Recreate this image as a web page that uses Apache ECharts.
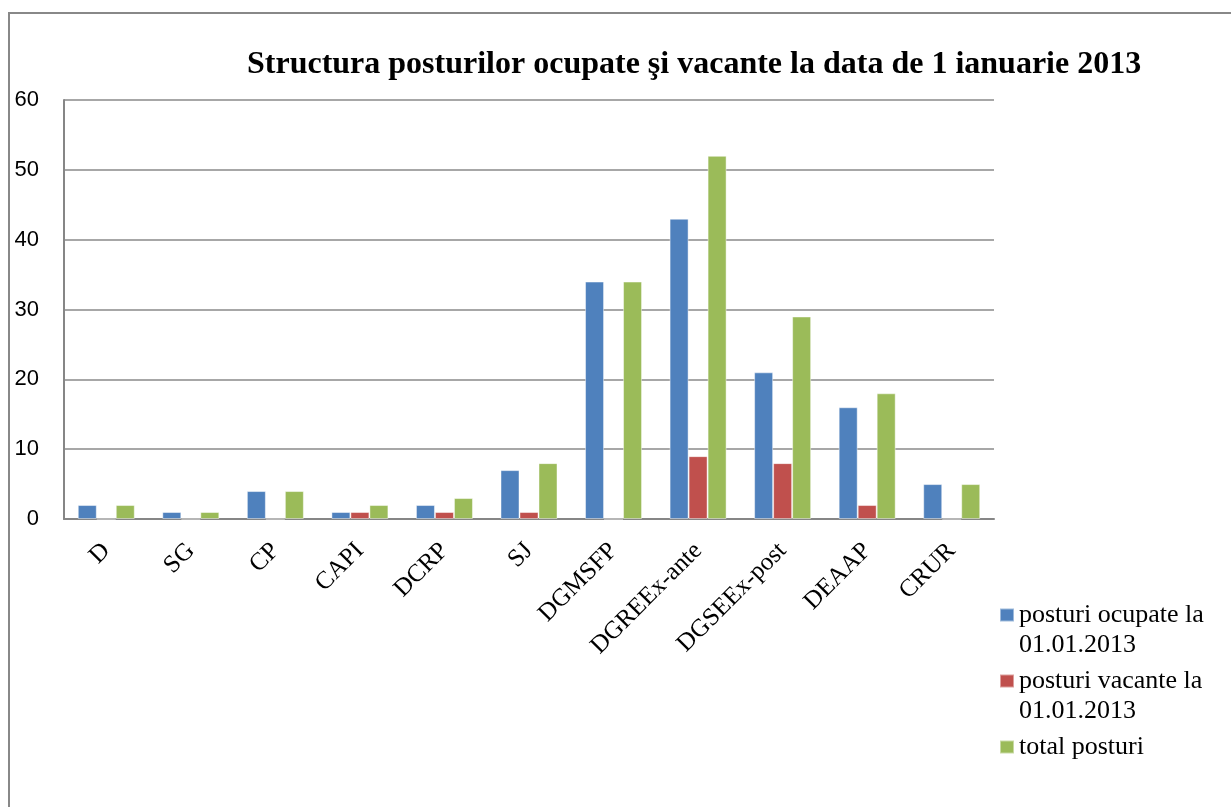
<!DOCTYPE html>
<html>
<head>
<meta charset="utf-8">
<title>Structura posturilor</title>
<script src="https://cdn.jsdelivr.net/npm/echarts@6/dist/echarts.min.js"></script>
<style>
  html, body { margin: 0; padding: 0; background: #fff; overflow: hidden; }
  #chart { width: 1231px; height: 807px; }
</style>
</head>
<body>
<div id="chart"></div>
<script>
  // categorii (axa X)
  var categories = ['D', 'SG', 'CP', 'CAPI', 'DCRP', 'SJ', 'DGMSFP', 'DGREEx-ante', 'DGSEEx-post', 'DEAAP', 'CRUR']
  // valori
  var ocupate = [2, 1, 4, 1, 2, 7, 34, 43, 21, 16, 5]
  var vacante = [0, 0, 0, 1, 1, 1, 0, 9, 8, 2, 0]
  var total = [2, 1, 4, 2, 3, 8, 34, 52, 29, 18, 5]
  var yTicks = [0, 10, 20, 30, 40, 50, 60]

  var names = ['posturi ocupate la\n01.01.2013', 'posturi vacante la\n01.01.2013', 'total posturi']
  var serif = '"Liberation Serif", "Times New Roman", serif'

  var chart = echarts.init(document.getElementById('chart'))

  function legendItem(name, top, twoLines) {
    return {
      orient: 'vertical',
      left: 999,
      top: top,
      padding: 0,
      itemWidth: 14,
      itemHeight: 13,
      icon: 'rect',
      selectedMode: false,
      data: [name],
      // linie goala deasupra ca patratul sa stea in dreptul primului rand
      formatter: function (n) {
        return twoLines ? '\n' + n : n
      },
      textStyle: {
        fontFamily: serif,
        fontSize: 26,
        lineHeight: 30,
        color: '#000'
      }
    }
  }

  var barBorder = {
    borderColor: 'rgba(255,255,255,0.45)',
    borderWidth: 1
  }

  var option = {
    animation: false,
    color: ['#4F81BD', '#C0504D', '#9BBB59'],
    title: {
      text: 'Structura posturilor ocupate şi vacante la data de 1 ianuarie 2013',
      left: 247,
      top: 49,
      padding: 0,
      textStyle: {
        fontFamily: serif,
        fontWeight: 'bold',
        fontSize: 32,
        color: '#000'
      }
    },
    legend: [
      legendItem(names[0], 570, true),
      legendItem(names[1], 636, true),
      legendItem(names[2], 732, false)
    ],
    grid: {
      left: 64,
      right: 237,
      top: 100,
      bottom: 288,
      containLabel: false
    },
    xAxis: {
      type: 'category',
      data: categories,
      axisTick: { show: false },
      axisLine: {
        lineStyle: { color: '#868686', width: 2 }
      },
      axisLabel: {
        rotate: 45,
        interval: 0,
        margin: 28,
        fontFamily: serif,
        fontSize: 25,
        color: '#000'
      }
    },
    yAxis: {
      type: 'value',
      min: yTicks[0],
      max: yTicks[yTicks.length - 1],
      interval: 10,
      axisTick: { show: false },
      axisLine: {
        show: true,
        lineStyle: { color: '#868686', width: 2 }
      },
      splitLine: {
        lineStyle: { color: '#8a8a8a', width: 1.5 }
      },
      axisLabel: {
        margin: 25,
        fontFamily: '"Liberation Sans", Arial, sans-serif',
        fontSize: 22,
        color: '#000'
      }
    },
    graphic: [{
      // chenarul graficului (doar sus si stanga sunt vizibile)
      type: 'rect',
      silent: true,
      shape: { x: 9, y: 13, width: 1300, height: 900 },
      style: { fill: 'none', stroke: '#888', lineWidth: 2 }
    }],
    series: [
      {
        name: names[0],
        type: 'bar',
        barWidth: 19,
        barGap: '0%',
        itemStyle: barBorder,
        data: ocupate
      },
      {
        name: names[1],
        type: 'bar',
        barWidth: 19,
        barGap: '0%',
        itemStyle: barBorder,
        data: vacante
      },
      {
        name: names[2],
        type: 'bar',
        barWidth: 19,
        barGap: '0%',
        itemStyle: barBorder,
        data: total
      }
    ]
  }

  chart.setOption(option)
</script>
</body>
</html>
